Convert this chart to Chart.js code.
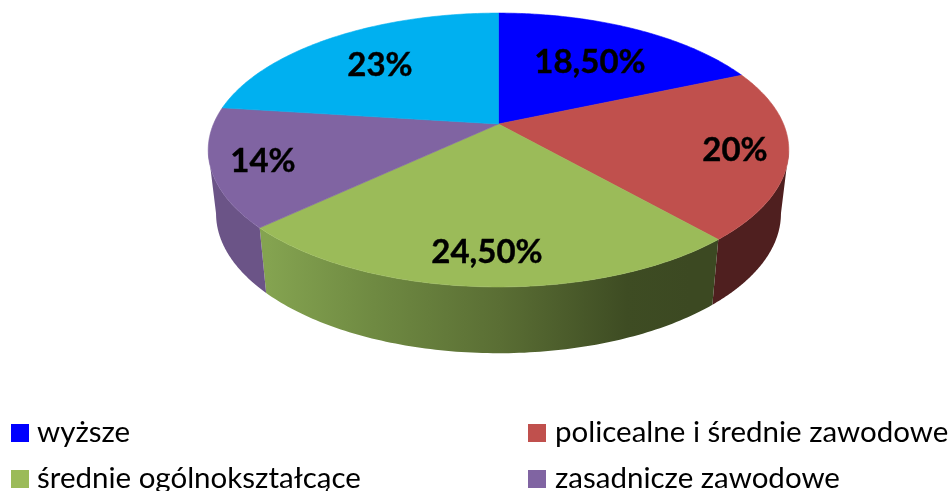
<!DOCTYPE html>
<html lang="pl">
<head>
<meta charset="utf-8">
<style>
  html, body { margin: 0; padding: 0; background: #fff; overflow: hidden; }
  #wrap { position: relative; width: 951px; height: 491px; overflow: hidden; }
  canvas { position: absolute; left: 0; top: 0; }
  .key { position: absolute; font: 29.5px Lato, sans-serif; line-height: 36px; color: #000; white-space: nowrap; }
  .swatch { position: absolute; width: 18px; height: 18px; }
</style>
<script src="https://cdn.jsdelivr.net/npm/chart.js@4"></script>
</head>
<body>
<div id="wrap">
  <canvas id="pie" width="951" height="491"></canvas>
</div>
<script>
// the fifth slice's legend entry is cut off in the picture, so it has no name here
const categories = ["wyższe", "policealne i średnie zawodowe", "średnie ogólnokształcące", "zasadnicze zawodowe"]
const shares = [18.5, 20, 24.5, 14, 23]
const shareLabels = ["18,50%", "20%", "24,50%", "14%", "23%"]

const topColors = ["#0000ff", "#c0504d", "#9bbb59", "#8064a2", "#00b0f0"]
const sideColors = ["#000080", "#4f1f1f", null, "#6b5487", "#00587a"]

// centre of each percentage label on the page
const labelCenters = [[590, 62], [735, 150], [487, 252], [263, 161], [380, 65]]

// legend slots: swatch x, text x, row top
const keySlots = [[11, 37, 424], [528, 555, 424], [11, 37, 470], [528, 555, 470]]

// the tilted disc is a perspective view of a circle, so map unit circle points by hand
const cx = 498.5, cy = 124, ax = 285, by = 132, persp = -0.19
function project(a, drop) {
    const u = Math.cos(a), v = Math.sin(a)
    const w = 1 + persp * v
    if (drop) return [cx + 0.973 * ax * u / w, 187 + 1.02 * by * v / w]
    return [cx + ax * u / w, cy + by * v / w]
}

function traceRim(ctx, a0, a1, drop) {
    const steps = 100
    for (let i = 0; i <= steps; i++) {
        const p = project(a0 + (a1 - a0) * i / steps, drop)
        ctx.lineTo(p[0], p[1])
    }
}

class TiltArc extends Chart.ArcElement {
    static id = "tiltArc"
    draw(ctx) {
        ctx.save()
        ctx.fillStyle = this.options.backgroundColor
        ctx.strokeStyle = this.options.backgroundColor
        ctx.lineWidth = 0.6
        ctx.beginPath()
        ctx.moveTo(cx, cy)
        traceRim(ctx, this.startAngle, this.endAngle, false)
        ctx.closePath()
        ctx.fill()
        ctx.stroke()
        ctx.restore()
    }
}

class TiltPie extends Chart.PieController {
    static id = "tiltPie"
    static defaults = { dataElementType: "tiltArc" }
}

Chart.register(TiltArc, TiltPie)

const wallPlugin = {
    id: "walls",
    beforeDatasetsDraw(chart) {
        const ctx = chart.ctx
        const arcs = chart.getDatasetMeta(0).data
        const green = ctx.createLinearGradient(268, 0, 690, 0)
        green.addColorStop(0, "#84a350")
        green.addColorStop(0.25, "#6f8a42")
        green.addColorStop(0.55, "#5a6e34")
        green.addColorStop(0.85, "#3e4c23")
        green.addColorStop(1, "#3c4922")
        // only the front part of the rim shows, between the two points where it turns back
        const turn = Math.asin(-persp)
        arcs.forEach((arc, i) => {
            const from = Math.max(arc.startAngle, turn)
            const to = Math.min(arc.endAngle, Math.PI - turn)
            if (to <= from) return
            ctx.beginPath()
            traceRim(ctx, from, to, false)
            traceRim(ctx, to, from, true)
            ctx.closePath()
            ctx.fillStyle = sideColors[i] || green
            ctx.fill()
        })
    },
    afterDatasetsDraw(chart) {
        const ctx = chart.ctx
        ctx.save()
        ctx.font = "bold 33px Lato, sans-serif"
        ctx.fillStyle = "#000"
        ctx.strokeStyle = "#000"
        ctx.lineWidth = 0.4
        ctx.textAlign = "center"
        ctx.textBaseline = "middle"
        shareLabels.forEach((t, i) => {
            ctx.fillText(t, labelCenters[i][0], labelCenters[i][1])
            ctx.strokeText(t, labelCenters[i][0], labelCenters[i][1])
        })
        ctx.restore()
    }
}

const chart = new Chart(document.getElementById("pie"), {
    type: "tiltPie",
    data: {
        labels: categories,
        datasets: [{ data: shares, backgroundColor: topColors, borderWidth: 0 }]
    },
    options: {
        responsive: false,
        animation: false,
        plugins: { legend: { display: false }, tooltip: { enabled: false } }
    },
    plugins: [wallPlugin]
})

// the legend has two fixed columns, the library's own one can't align those
const wrap = document.getElementById("wrap")
keySlots.forEach((slot, i) => {
    const sw = document.createElement("div")
    sw.className = "swatch"
    sw.style.cssText = `left:${slot[0]}px;top:${slot[2]}px;background:${topColors[i]}`
    const key = document.createElement("div")
    key.className = "key"
    key.textContent = categories[i]
    key.style.cssText = `left:${slot[1]}px;top:${slot[2] - 11}px`
    wrap.append(sw, key)
})
</script>
</body>
</html>
